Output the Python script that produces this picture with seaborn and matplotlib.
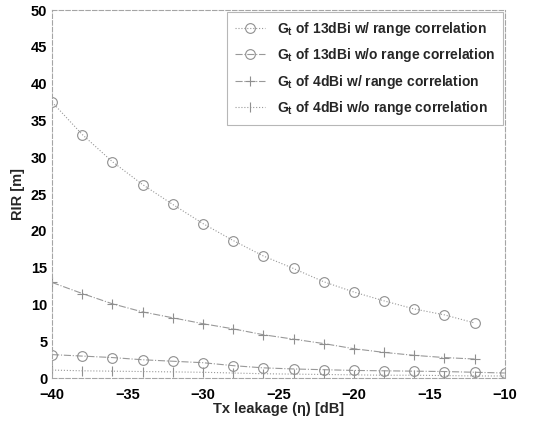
import matplotlib
matplotlib.use("Agg")
import matplotlib.pyplot as plt
import numpy as np
import pandas as pd
import seaborn as sns

# Tx leakage [dB], every 2 dB
leak_w = [-40, -38, -36, -34, -32, -30, -28, -26, -24, -22, -20, -18, -16, -14, -12]
leak_wo = [-40, -38, -36, -34, -32, -30, -28, -26, -24, -22, -20, -18, -16, -14, -12, -10]

rir_13_w = [37.5, 33.1, 29.4, 26.3, 23.6, 21.0, 18.7, 16.6, 14.9, 13.1, 11.7, 10.5, 9.4, 8.6, 7.5]
rir_13_wo = [3.2, 3.0, 2.8, 2.5, 2.3, 2.1, 1.7, 1.4, 1.25, 1.15, 1.05, 1.0, 0.95, 0.9, 0.8, 0.7]
rir_4_w = [13.0, 11.5, 10.1, 9.0, 8.2, 7.4, 6.7, 5.9, 5.3, 4.7, 4.0, 3.5, 3.1, 2.8, 2.6]
rir_4_wo = [1.1, 1.0, 0.95, 0.9, 0.85, 0.8, 0.7, 0.6, 0.55, 0.5, 0.45, 0.4, 0.4, 0.35, 0.3, 0.3]

labels = [
    r"G$_\mathregular{t}$ of 13dBi w/ range correlation",
    r"G$_\mathregular{t}$ of 13dBi w/o range correlation",
    r"G$_\mathregular{t}$ of 4dBi w/ range correlation",
    r"G$_\mathregular{t}$ of 4dBi w/o range correlation",
]

series = [
    (leak_w, rir_13_w, "o", ":"),
    (leak_wo, rir_13_wo, "o", "-."),
    (leak_w, rir_4_w, "+", "-."),
    (leak_wo, rir_4_wo, "|", ":"),
]

sns.set_theme(style="white")
plt.rcParams["font.family"] = ["Liberation Sans", "DejaVu Sans"]
plt.rcParams["mathtext.fontset"] = "custom"
plt.rcParams["mathtext.rm"] = "Liberation Sans"
plt.rcParams["mathtext.bf"] = "Liberation Sans:bold"

fig = plt.figure(figsize=(5.37, 4.23), dpi=100)
ax = fig.add_axes([0.097, 0.106, 0.843, 0.870])

for (x, y, marker, ls), label in zip(series, labels):
    df = pd.DataFrame({"x": x, "y": y})
    sns.lineplot(
        data=df, x="x", y="y", ax=ax, color="#999999", linestyle=ls, lw=0.8,
        marker=marker, markersize=7, markerfacecolor="none",
        markeredgecolor="#8f8f8f", markeredgewidth=0.8, label=label,
    )

ax.set_xlim(-40, -10)
ax.set_ylim(0, 50)
ax.set_xticks(np.arange(-40, -9, 5))
ax.set_yticks(np.arange(0, 51, 5))
ax.tick_params(direction="in", length=3, labelsize=10.5, colors="black", width=0.6)
ax.tick_params(axis="x", pad=7)
for lab in ax.get_xticklabels() + ax.get_yticklabels():
    lab.set_fontweight("bold")
for sp in ax.spines.values():
    sp.set_color("#a5a5a5")
    sp.set_linewidth(0.8)
    sp.set_linestyle((0, (4, 2)))

ax.set_xlabel("Tx leakage (\u03b7) [dB]", fontsize=10.5, fontweight="bold", labelpad=0)
ax.set_ylabel("RIR [m]", fontsize=10.5, fontweight="bold", labelpad=4)

leg = ax.legend(loc="upper right", fontsize=10, frameon=True, fancybox=False,
                edgecolor="#a5a5a5", borderaxespad=0.1, handlelength=2.2,
                labelspacing=0.6, borderpad=0.6)
leg.get_frame().set_linewidth(0.8)
for t in leg.get_texts():
    t.set_fontweight("bold")

fig.savefig("out.png", dpi=100)
